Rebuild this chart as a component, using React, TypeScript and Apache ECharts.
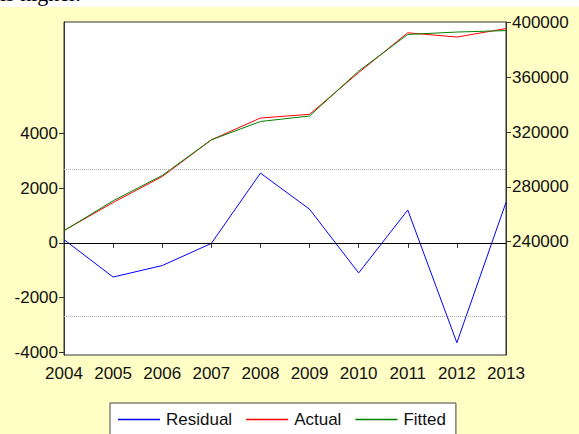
import React, { useEffect, useRef } from "react";
import * as echarts from "echarts";

const years = ["2004", "2005", "2006", "2007", "2008", "2009", "2010", "2011", "2012", "2013"];
const residual = [120, -1250, -830, -20, 2550, 1230, -1100, 1200, -3650, 1480];
const actual = [248000, 268500, 287500, 314300, 330300, 333000, 363500, 392600, 389500, 395700];
const fitted = [247880, 269750, 288330, 314320, 327750, 331770, 364600, 391400, 393150, 394220];
const leftTicks = [-4000, -2000, 0, 2000, 4000];
const rightTicks = [240000, 280000, 320000, 360000, 400000];
const seBand = 2680;

export default function App() {
  const ref = useRef<HTMLDivElement>(null);
  useEffect(() => {
    if (!ref.current) return;
    const chart = echarts.init(ref.current, null, { renderer: "svg" });
    const font = "'Liberation Sans', Arial, sans-serif";
    const plain = (v: number) => String(v);
    chart.setOption({
      animation: false,
      backgroundColor: "#FFFEC4",
      textStyle: { fontFamily: font },
      graphic: [
        { type: "rect", shape: { x: 0, y: 0, width: 579, height: 7 }, style: { fill: "#ffffff" }, z: -1 },
        {
          type: "text",
          x: 0,
          y: -18,
          style: { text: "is higher.", font: "22px 'Liberation Serif', serif", fill: "#000" },
        },
      ],
      grid: {
        left: 64,
        right: 73,
        top: 22,
        bottom: 79,
        show: true,
        backgroundColor: "#ffffff",
        borderColor: "#333",
        borderWidth: 1,
      },
      legend: {
        left: 110,
        top: 403,
        padding: [8, 10, 8, 8],
        backgroundColor: "#ffffff",
        borderColor: "#444",
        borderWidth: 1,
        borderRadius: 0,
        itemWidth: 42,
        itemHeight: 1.5,
        itemGap: 14,
        icon: "rect",
        textStyle: { fontSize: 17, color: "#111", fontFamily: font, padding: [0, 0, 0, 1] },
        data: ["Residual", "Actual", "Fitted"],
      },
      xAxis: {
        type: "category",
        data: years,
        boundaryGap: false,
        axisLine: { lineStyle: { color: "#333" } },
        axisTick: { length: 5, interval: 0, lineStyle: { color: "#333" } },
        axisLabel: { fontSize: 17, color: "#111", margin: 10, interval: 0, fontFamily: font },
        splitLine: { show: false },
      },
      yAxis: [
        {
          type: "value",
          position: "left",
          min: -4100,
          max: 8075,
          axisLine: { show: true, lineStyle: { color: "#333" } },
          axisTick: { show: true, length: 5, customValues: leftTicks, lineStyle: { color: "#333" } },
          axisLabel: { fontSize: 17, color: "#111", margin: 6, customValues: leftTicks, formatter: plain, fontFamily: font },
          splitLine: { show: false },
        },
        {
          type: "value",
          position: "right",
          min: 157000,
          max: 400500,
          axisLine: { show: true, lineStyle: { color: "#333" } },
          axisTick: { show: true, length: 5, customValues: rightTicks, lineStyle: { color: "#333" } },
          axisLabel: { fontSize: 17, color: "#111", margin: 6, customValues: rightTicks, formatter: plain, fontFamily: font },
          splitLine: { show: false },
        },
      ],
      series: [
        {
          name: "Residual",
          type: "line",
          yAxisIndex: 0,
          data: residual,
          showSymbol: false,
          symbol: "none",
          lineStyle: { color: "#0000FF", width: 1 },
          itemStyle: { color: "#0000FF" },
          markLine: {
            silent: true,
            symbol: "none",
            label: { show: false },
            data: [
              { yAxis: 0, lineStyle: { color: "#000", type: "solid", width: 1 } },
              { yAxis: seBand, lineStyle: { color: "#aaa", type: "dotted", width: 1 } },
              { yAxis: -seBand, lineStyle: { color: "#aaa", type: "dotted", width: 1 } },
            ],
          },
        },
        {
          name: "Actual",
          type: "line",
          yAxisIndex: 1,
          data: actual,
          showSymbol: false,
          symbol: "none",
          lineStyle: { color: "#FF0000", width: 1 },
          itemStyle: { color: "#FF0000" },
        },
        {
          name: "Fitted",
          type: "line",
          yAxisIndex: 1,
          data: fitted,
          showSymbol: false,
          symbol: "none",
          lineStyle: { color: "#008000", width: 1 },
          itemStyle: { color: "#008000" },
        },
      ],
    });
    return () => chart.dispose();
  }, []);
  return (
    <div
      ref={ref}
      style={{ position: "absolute", left: 0, top: 0, width: 579, height: 434 }}
    />
  );
}
